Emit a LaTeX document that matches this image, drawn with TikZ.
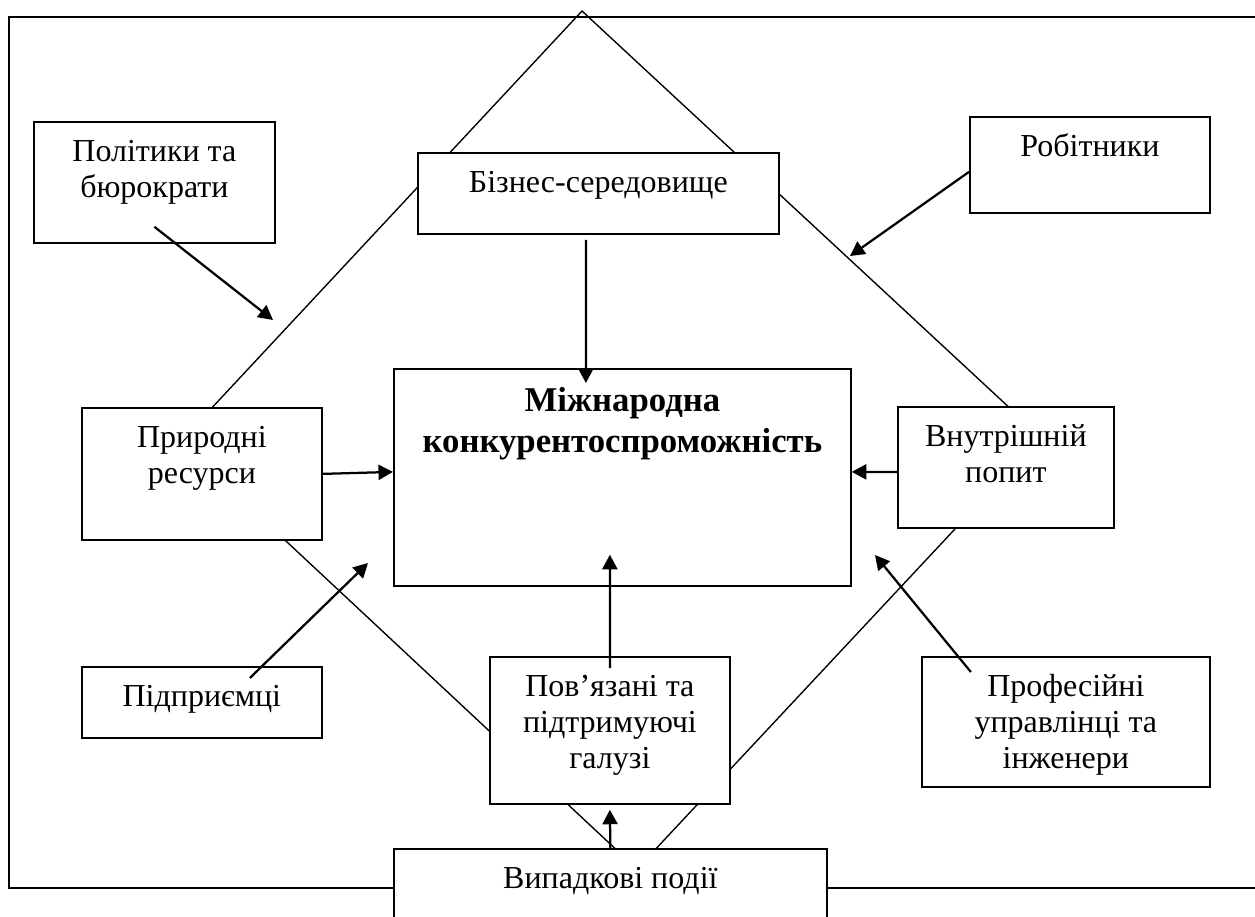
\documentclass[tikz,border=0pt]{standalone}
\usepackage{fontspec}
\setmainfont{Liberation Serif}
\usetikzlibrary{arrows.meta}

\begin{document}
\begin{tikzpicture}[x=0.4pt, y=-0.4pt]
    \tikzstyle{frame} = [line width=0.7pt]
    \tikzstyle{rhomb} = [line width=0.55pt]
    \tikzstyle{box} = [rectangle, draw=black, fill=white, line width=0.7pt, anchor=north west, inner sep=0pt]
    \tikzstyle{txt} = [anchor=base, align=center, inner sep=0pt, font=\fontsize{12.8}{14.4}\selectfont]
    \tikzstyle{arrow} = [line width=0.9pt, -{Triangle[length=5.8pt, width=6pt]}]
    \tikzset{size/.style 2 args={minimum width=#1*0.4pt, minimum height=#2*0.4pt}}

    \useasboundingbox (0,0) rectangle (1255,916);

    % Frame and diamond
    \draw [frame] (9,17) rectangle (1270,888);
    \coordinate (top) at (582,11);
    \coordinate (left) at (180,442);
    \coordinate (bottom) at (637,869);
    \coordinate (right) at (1041,437);
    \draw [rhomb] (top) -- (left) -- (bottom) -- (right) -- cycle;

    % Nodes (multi-line text sits on its last line, hence the larger shifts)
    \node (pol) [box, size={241}{121}] at (33,121) {};
    \node (pol-t) [txt] at ([yshift=-30.6pt]pol.north) {Політики та\\бюрократи};
    \node (rob) [box, size={240}{96}] at (969,116) {};
    \node (rob-t) [txt] at ([yshift=-16.2pt]rob.north) {Робітники};
    \node (biz) [box, size={361}{81}] at (417,152) {};
    \node (biz-t) [txt] at ([yshift=-16.2pt]biz.north) {Бізнес-середовище};
    \node (nat) [box, size={240}{132}] at (81,407) {};
    \node (nat-t) [txt] at ([yshift=-30.4pt]nat.north) {Природні\\ресурси};
    \node (dem) [box, size={216}{121}] at (897,406) {};
    \node (dem-t) [txt] at ([yshift=-30.4pt]dem.north) {Внутрішній\\попит};
    \node (centre) [box, size={457}{217}] at (393,368) {};
    \node (centre-t) [txt, font=\bfseries\fontsize{13.9}{16.4}\selectfont] at ([yshift=-33.6pt]centre.north) {Міжнародна\\конкурентоспроможність};
    \node (ent) [box, size={240}{71}] at (81,666) {};
    \node (ent-t) [txt] at ([yshift=-16.2pt]ent.north) {Підприємці};
    \node (rel) [box, size={240}{147}] at (489,656) {};
    \node (rel-t) [txt] at ([yshift=-44.8pt]rel.north) {Пов’язані та\\підтримуючі\\галузі};
    \node (prof) [box, size={288}{130}] at (921,656) {};
    \node (prof-t) [txt] at ([yshift=-44.8pt]prof.north) {Професійні\\управлінці та\\інженери};
    \node (rand) [box, size={433}{100}] at (393,848) {};
    \node (rand-t) [txt] at ([yshift=-16pt]rand.north) {Випадкові події};

    % Arrow ends
    \coordinate (polEnd) at (273,320);
    \coordinate (robEnd) at (850,256);
    \coordinate (entEnd) at (368,563);
    \coordinate (profEnd) at (875,555);

    % Arrows
    \draw [arrow] ([yshift=6.8pt]pol.south) -- (polEnd);
    \draw [arrow] ([yshift=-2.8pt]rob.west) -- (robEnd);
    \draw [arrow] (nat.east) -- ([yshift=2.2pt]centre.west);
    \draw [arrow] ([xshift=19.2pt, yshift=-4.8pt]ent.north) -- (entEnd);
    \draw [arrow] ([yshift=-1.8pt]dem.west) -- ([yshift=2.2pt]centre.east);
    \draw [arrow] ([xshift=-38pt, yshift=-6.4pt]prof.north) -- (profEnd);
    \draw [arrow] ([xshift=-5pt, yshift=-2pt]biz.south) -- ([xshift=-14.6pt, yshift=-6pt]centre.north);
    \draw [arrow] ([yshift=-4.8pt]rel.north) -- ([xshift=-5pt, yshift=12.8pt]centre.south);
    \draw [arrow] (rand.north) -- ([yshift=-2pt]rel.south);
\end{tikzpicture}
\end{document}
